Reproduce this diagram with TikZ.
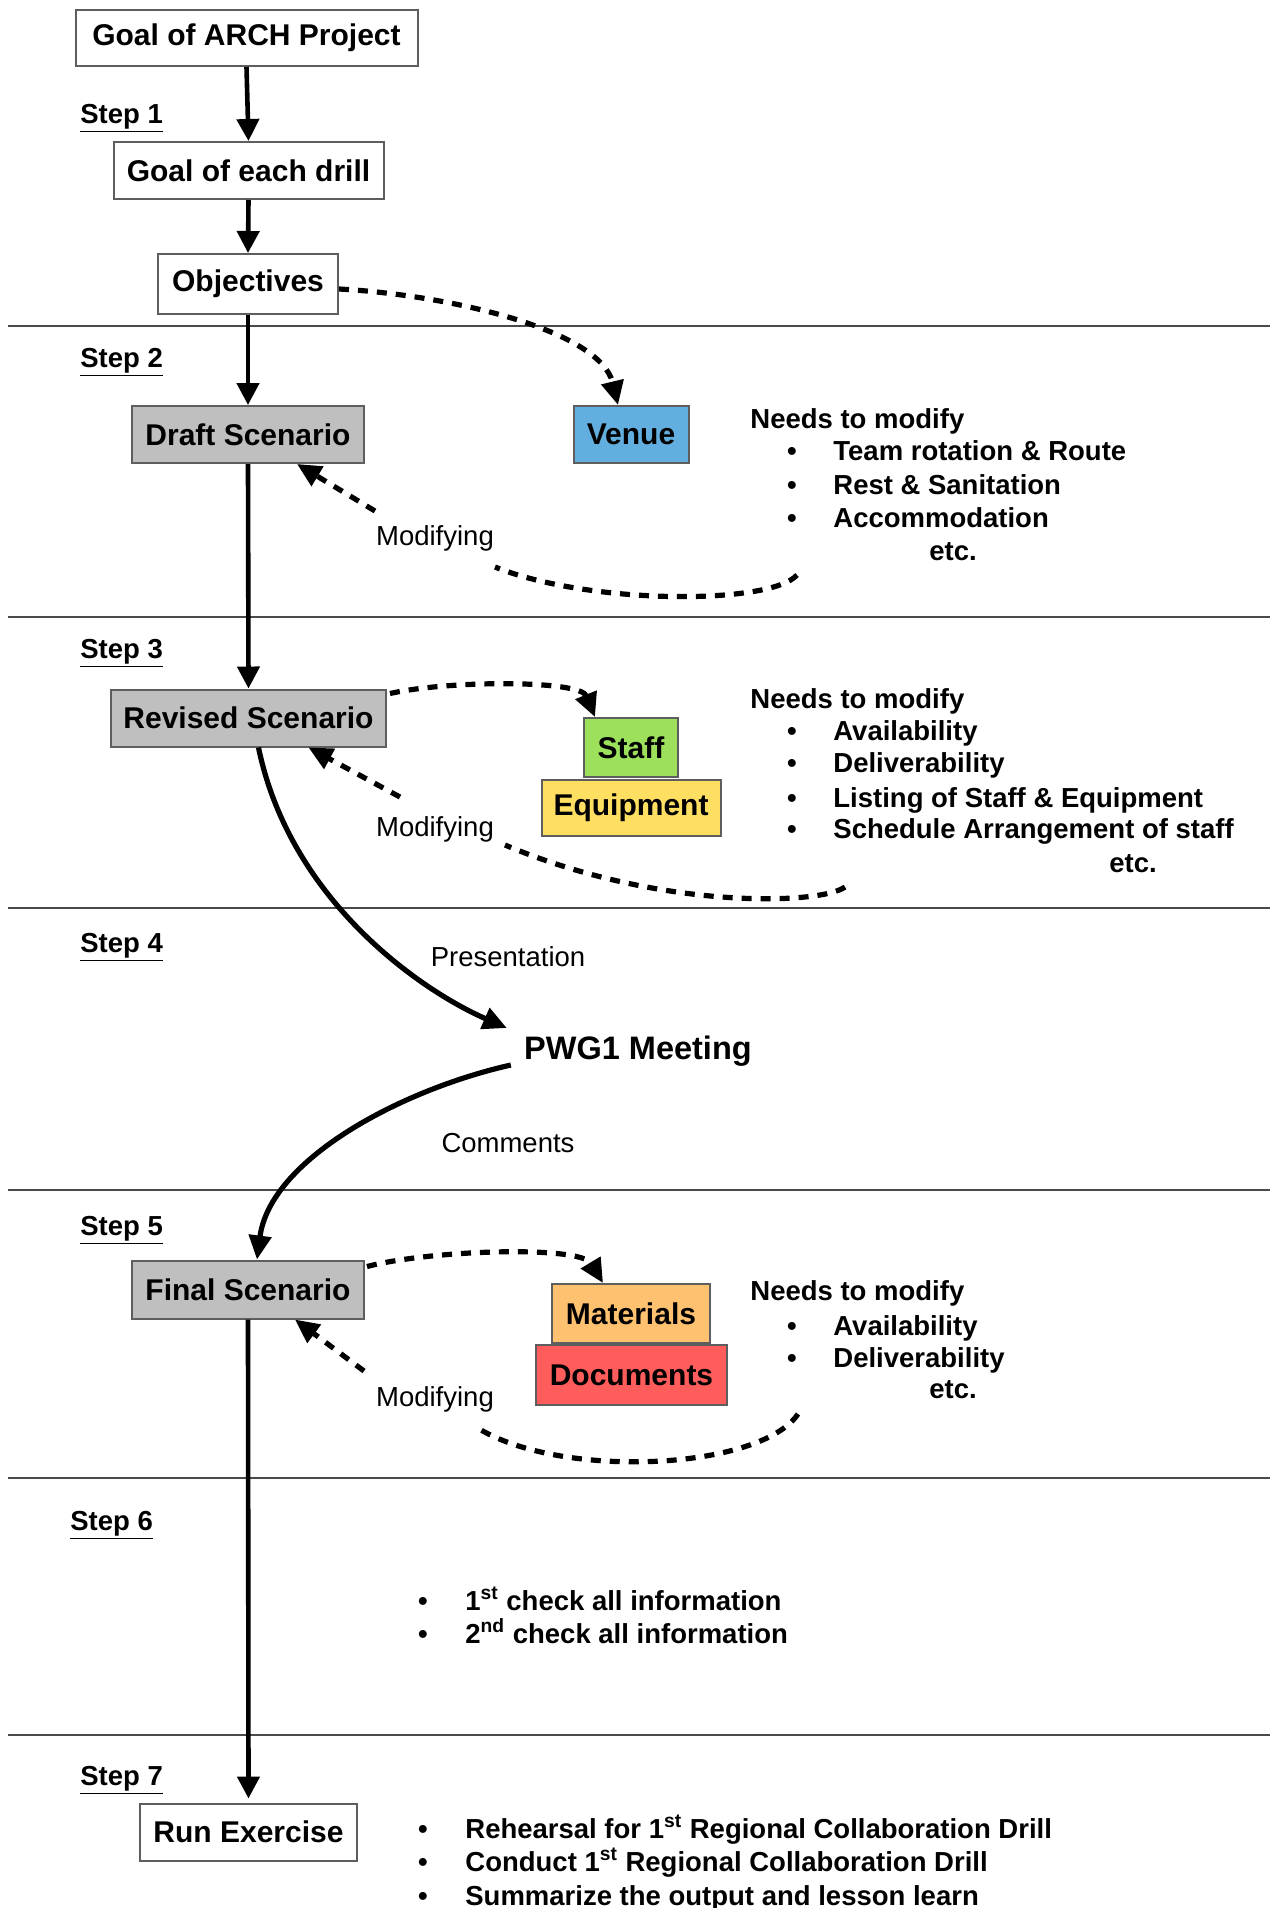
\documentclass[tikz,border=0pt]{standalone}
\usepackage{fontspec}
\setmainfont{Liberation Sans}
\usetikzlibrary{arrows.meta,calc}
\definecolor{edgegray}{HTML}{5E5E5E}
\definecolor{scengray}{HTML}{BFBFBF}
\definecolor{venueblue}{HTML}{62AEDE}
\definecolor{staffgreen}{HTML}{9CE05C}
\definecolor{equipyellow}{HTML}{FFDF62}
\definecolor{matorange}{HTML}{FEC170}
\definecolor{docred}{HTML}{FF5C5C}
\definecolor{rulegray}{HTML}{4A4A4A}
\begin{document}
\begin{tikzpicture}[x=0.5pt,y=-0.5pt,
  box/.style={draw=edgegray, line width=1pt, inner sep=0pt,
    font=\bfseries\fontsize{15}{18}\selectfont},
  stepl/.style={anchor=base west, inner sep=0pt,
    font=\bfseries\fontsize{13.75}{16}\selectfont},
  listtxt/.style={anchor=base west, inner sep=0pt,
    font=\bfseries\fontsize{13.75}{16}\selectfont},
  bul/.style={anchor=base, inner sep=0pt,
    font=\bfseries\fontsize{13.75}{16}\selectfont},
  lbl/.style={inner sep=1pt, font=\fontsize{13.75}{16}\selectfont},
  solidarrow/.style={line width=2.3pt, -{Triangle[length=11pt,width=11pt]}},
  curvearrow/.style={line width=2.6pt, -{Triangle[length=12pt,width=11pt]}},
  dasharrow/.style={line width=2.6pt, dash pattern=on 5pt off 4.5pt,
    -{Triangle[length=12pt,width=11pt]}},
  dashline/.style={line width=2.6pt, dash pattern=on 5pt off 4.5pt},
  sepline/.style={draw=rulegray, line width=0.8pt}
]
\useasboundingbox (0,0) rectangle (1274,1908);

% horizontal separators between the steps
\foreach \yy in {326,617,908,1190,1478,1735}
  \draw[sepline] (8,\yy) -- (1270,\yy);

% step labels
\node[stepl] (s1) at (80,123)  {\underline{Step 1}};
\node[stepl] (s2) at (80,367)  {\underline{Step 2}};
\node[stepl] (s3) at (80,658)  {\underline{Step 3}};
\node[stepl] (s4) at (80,952)  {\underline{Step 4}};
\node[stepl] (s5) at (80,1235) {\underline{Step 5}};
\node[stepl] (s6) at (70,1530) {\underline{Step 6}};
\node[stepl] (s7) at (80,1785) {\underline{Step 7}};

% main boxes
\node[box, fill=white, minimum width=171pt, minimum height=28pt] (goal) at (246.5,38) {Goal of ARCH Project};
\node[box, fill=white, minimum width=135pt, minimum height=28.5pt] (drill) at (248.5,170.5) {Goal of each drill};
\node[box, fill=white, minimum width=90pt, minimum height=30pt] (obj) at (248,284) {Objectives};
\node[box, fill=scengray, minimum width=116pt, minimum height=28.5pt] (draft) at (248,434.5) {Draft Scenario};
\node[box, fill=venueblue, minimum width=57.5pt, minimum height=28.5pt] (venue) at (631,434.5) {Venue};
\node[box, fill=scengray, minimum width=137.5pt, minimum height=28.5pt] (revised) at (248.5,718) {Revised Scenario};
\node[box, fill=staffgreen, minimum width=47pt, minimum height=29.5pt] (staff) at (631,747.5) {Staff};
\node[box, fill=equipyellow, minimum width=89.5pt, minimum height=28pt] (equip) at (631,808) {Equipment};
\node[font=\bfseries\fontsize{16.25}{19}\selectfont, inner sep=0pt] (pwg) at (638,1051) {PWG1 Meeting};
\node[box, fill=scengray, minimum width=116pt, minimum height=29pt] (final) at (248,1289.5) {Final Scenario};
\node[box, fill=matorange, minimum width=79pt, minimum height=29.5pt] (mat) at (631,1313.5) {Materials};
\node[box, fill=docred, minimum width=95.5pt, minimum height=30pt] (docs) at (631.5,1375) {Documents};
\node[box, fill=white, minimum width=108.5pt, minimum height=28.5pt] (run) at (248.5,1832) {Run Exercise};

% main flow
\draw[solidarrow] (goal.south) -- (drill.north);
\draw[solidarrow] (drill.south) -- (obj.north);
\draw[solidarrow] (obj.south) -- (draft.north);
\draw[solidarrow] (draft.south) -- (revised.north);
\draw[solidarrow] (final.south) -- ([yshift=2pt]run.north);

% objectives feed the venue
\draw[dasharrow] ([yshift=-2.5pt]obj.east) .. controls (450,295) and (600,330) .. ([xshift=-6.5pt]venue.north);

% step 2 notes
\node[listtxt] (n2) at (750,428) {Needs to modify};
\node[bul] (b21) at (792,460) {•};
\node[listtxt] (t21) at (833,460) {Team rotation \& Route};
\node[bul] (b22) at (792,494) {•};
\node[listtxt] (t22) at (833,494) {Rest \& Sanitation};
\node[bul] (b23) at (792,527) {•};
\node[listtxt] (t23) at (833,527) {Accommodation};
\node[bul] (e2) at (953,560) {etc.};

% step 2 modifying loop
\coordinate (m2a) at (797,575);
\coordinate (m2b) at (495,567);
\coordinate (m2c) at (375,511);
\node[lbl] (mod2) at (435,538) {Modifying};
\draw[dashline] (m2a) .. controls (770,605) and (590,605) .. (m2b);
\draw[dasharrow] (m2c) -- ([xshift=24.5pt]draft.south);

% revised scenario to staff
\draw[dasharrow] ($(revised.north east)+(3,5)$) .. controls (450,680) and (580,680) .. ([xshift=-18pt]staff.north);

% step 3 notes
\node[listtxt] (n3) at (750,708) {Needs to modify};
\node[bul] (b31) at (792,740) {•};
\node[listtxt] (t31) at (833,740) {Availability};
\node[bul] (b32) at (792,772) {•};
\node[listtxt] (t32) at (833,772) {Deliverability};
\node[bul] (b33) at (792,807) {•};
\node[listtxt] (t33) at (833,807) {Listing of Staff \& Equipment};
\node[bul] (b34) at (792,838) {•};
\node[listtxt] (t34) at (833,838) {Schedule Arrangement of staff};
\node[bul] (e3) at (1133,872) {etc.};

% step 3 modifying loop
\coordinate (m3a) at (845,887);
\coordinate (m3b) at (505,845);
\coordinate (m3c) at (400,797);
\node[lbl] (mod3) at (435,829) {Modifying};
\draw[dashline] (m3a) .. controls (820,905) and (660,910) .. (m3b);
\draw[dasharrow] (m3c) -- ([xshift=30pt]revised.south);

% presentation to the meeting and comments back
\draw[curvearrow] ([xshift=5pt]revised.south) .. controls (290,900) and (420,990) .. ($(pwg.west)+(-17,-23)$);
\node[lbl] (pres) at (508,957) {Presentation};
\draw[curvearrow] ($(pwg.west)+(-13,14)$) .. controls (400,1090) and (270,1160) .. ([xshift=4.5pt]final.north);
\node[lbl] (comm) at (508,1143) {Comments};

% final scenario to materials
\draw[dasharrow] ($(final.north east)+(2,7)$) .. controls (430,1250) and (580,1245) .. ([xshift=-14pt]mat.north);

% step 5 notes
\node[listtxt] (n5) at (750,1300) {Needs to modify};
\node[bul] (b51) at (792,1335) {•};
\node[listtxt] (t51) at (833,1335) {Availability};
\node[bul] (b52) at (792,1367) {•};
\node[listtxt] (t52) at (833,1367) {Deliverability};
\node[bul] (e5) at (953,1398) {etc.};

% step 5 modifying loop
\coordinate (m5a) at (798,1414);
\coordinate (m5b) at (476,1427);
\coordinate (m5c) at (364,1371);
\node[lbl] (mod5) at (435,1399) {Modifying};
\draw[dashline] (m5a) .. controls (760,1470) and (560,1480) .. (m5b);
\draw[dasharrow] (m5c) -- ([xshift=23.5pt]final.south);

% step 6 checks
\node[bul] (b61) at (423,1610) {•};
\node[listtxt] (t61) at (465,1610) {1\textsuperscript{st} check all information};
\node[bul] (b62) at (423,1643) {•};
\node[listtxt] (t62) at (465,1643) {2\textsuperscript{nd} check all information};

% step 7 activities
\node[bul] (b71) at (423,1838) {•};
\node[listtxt] (t71) at (465,1838) {Rehearsal for 1\textsuperscript{st} Regional Collaboration Drill};
\node[bul] (b72) at (423,1871) {•};
\node[listtxt] (t72) at (465,1871) {Conduct 1\textsuperscript{st} Regional Collaboration Drill};
\node[bul] (b73) at (423,1905) {•};
\node[listtxt] (t73) at (465,1905) {Summarize the output and lesson learn};
\end{tikzpicture}
\end{document}
